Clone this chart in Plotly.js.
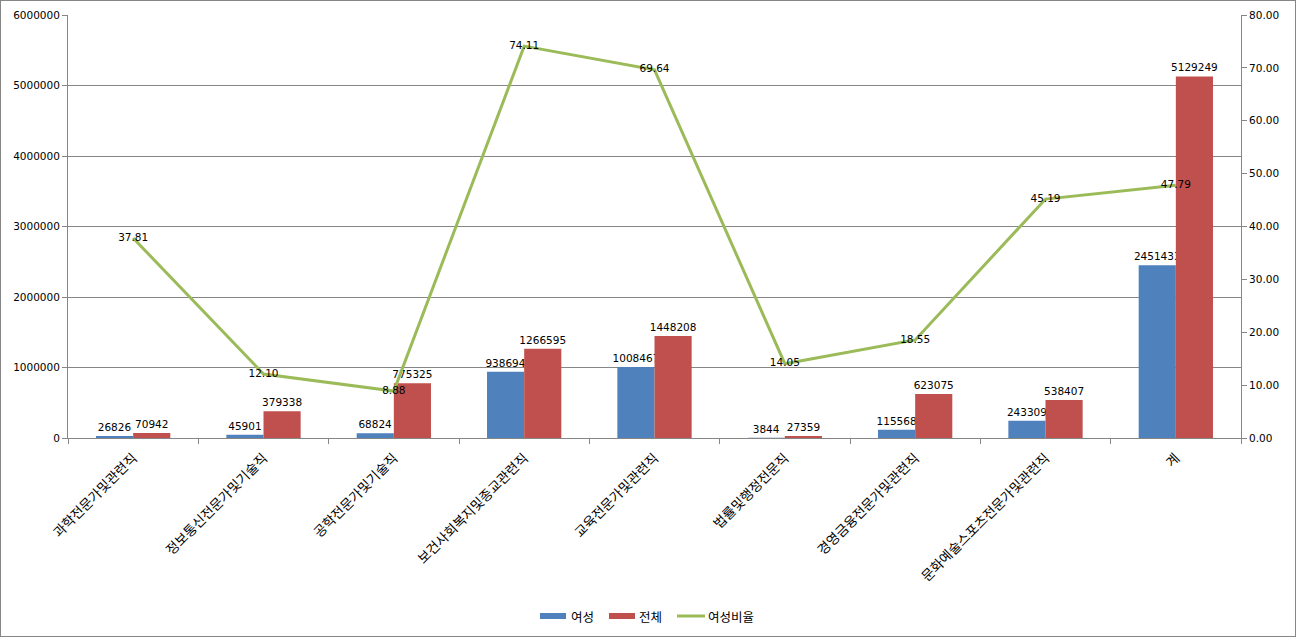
<!DOCTYPE html>
<html>
<head>
<meta charset="utf-8">
<script src="https://cdn.plot.ly/plotly-3.0.1.min.js"></script>
<style>
html,body{margin:0;padding:0;background:#fff;}
#chart{width:1294px;height:635px;border:1px solid #868686;}
</style>
</head>
<body>
<div id="chart"></div>
<script>
const categories = ["과학전문가및관련직","정보통신전문가및기술직","공학전문가및기술직","보건사회복지및종교관련직","교육전문가및관련직","법률및행정전문직","경영금융전문가및관련직","문화예술스포츠전문가및관련직","계"];
const female = [26826, 45901, 68824, 938694, 1008467, 3844, 115568, 243309, 2451433];
const total = [70942, 379338, 775325, 1266595, 1448208, 27359, 623075, 538407, 5129249];
const ratio = [37.81, 12.10, 8.88, 74.11, 69.64, 14.05, 18.55, 45.19, 47.79];
const seriesNames = ["여성", "전체", "여성비율"];
const seriesColors = ["#4F81BD", "#C0504D", "#9BBB59"];

const numFont = {family: "DejaVu Sans, Verdana, sans-serif", size: 10.5, color: "#000"};
const korFont = {family: "Noto Sans CJK KR, sans-serif", size: 13.5, color: "#000"};
const legFont = {family: "Noto Sans CJK KR, sans-serif", size: 12.5, color: "#000"};

const traces = [
  {type: "bar", name: seriesNames[0], x: categories, y: female, marker: {color: seriesColors[0]},
   text: female.map(String), textposition: "outside", textfont: numFont, cliponaxis: false, constraintext: "none"},
  {type: "bar", name: seriesNames[1], x: categories, y: total, marker: {color: seriesColors[1]},
   text: total.map(String), textposition: "outside", textfont: numFont, cliponaxis: false, constraintext: "none"},
  {type: "scatter", mode: "lines+text", name: seriesNames[2], x: categories, y: ratio, yaxis: "y2",
   line: {color: seriesColors[2], width: 3}, texttemplate: "%{y:.2f}", textposition: "middle center",
   textfont: numFont, cliponaxis: false}
];

// custom legend (page px -> paper coords)
const plotL = 68, plotW = 1173, plotB = 438, plotH = 423;
const px = v => (v - plotL) / plotW;
const py = v => (plotB - v) / plotH;
const shapes = [
  {type: "rect", xref: "paper", yref: "paper", x0: px(540), x1: px(566), y0: py(619), y1: py(613), fillcolor: seriesColors[0], line: {width: 0}},
  {type: "rect", xref: "paper", yref: "paper", x0: px(609), x1: px(635), y0: py(619), y1: py(613), fillcolor: seriesColors[1], line: {width: 0}},
  {type: "line", xref: "paper", yref: "paper", x0: px(677), x1: px(705), y0: py(616), y1: py(616), line: {color: seriesColors[2], width: 3}}
];
const annotations = [
  {xref: "paper", yref: "paper", x: px(569), y: py(616), text: seriesNames[0], showarrow: false, xanchor: "left", yanchor: "middle", font: legFont},
  {xref: "paper", yref: "paper", x: px(637), y: py(616), text: seriesNames[1], showarrow: false, xanchor: "left", yanchor: "middle", font: legFont},
  {xref: "paper", yref: "paper", x: px(706), y: py(616), text: seriesNames[2], showarrow: false, xanchor: "left", yanchor: "middle", font: legFont}
];

const layout = {
  width: 1294, height: 635,
  margin: {l: 67, r: 54, t: 14, b: 198},
  paper_bgcolor: "#fff", plot_bgcolor: "#fff",
  barmode: "group", bargap: 0.43, bargroupgap: 0,
  showlegend: false,
  shapes: shapes, annotations: annotations,
  xaxis: {type: "category", tickangle: -45, tickfont: korFont, showline: true, linecolor: "#868686",
    ticks: "outside", tickson: "boundaries", ticklen: 5, tickcolor: "#868686", showgrid: false, zeroline: false,
    ticklabelstandoff: 6},
  yaxis: {range: [0, 6000000], dtick: 1000000, tickformat: "d", tickfont: numFont, showline: true,
    linecolor: "#868686", ticks: "outside", ticklen: 5, tickcolor: "#868686", gridcolor: "#868686",
    zeroline: false},
  yaxis2: {range: [0, 80], dtick: 10, tickformat: ".2f", overlaying: "y", side: "right",
    tickfont: numFont, showline: true, linecolor: "#868686", ticks: "outside", ticklen: 5,
    tickcolor: "#868686", showgrid: false, zeroline: false}
};

Plotly.newPlot("chart", traces, layout, {displayModeBar: false, staticPlot: true});
</script>
</body>
</html>
